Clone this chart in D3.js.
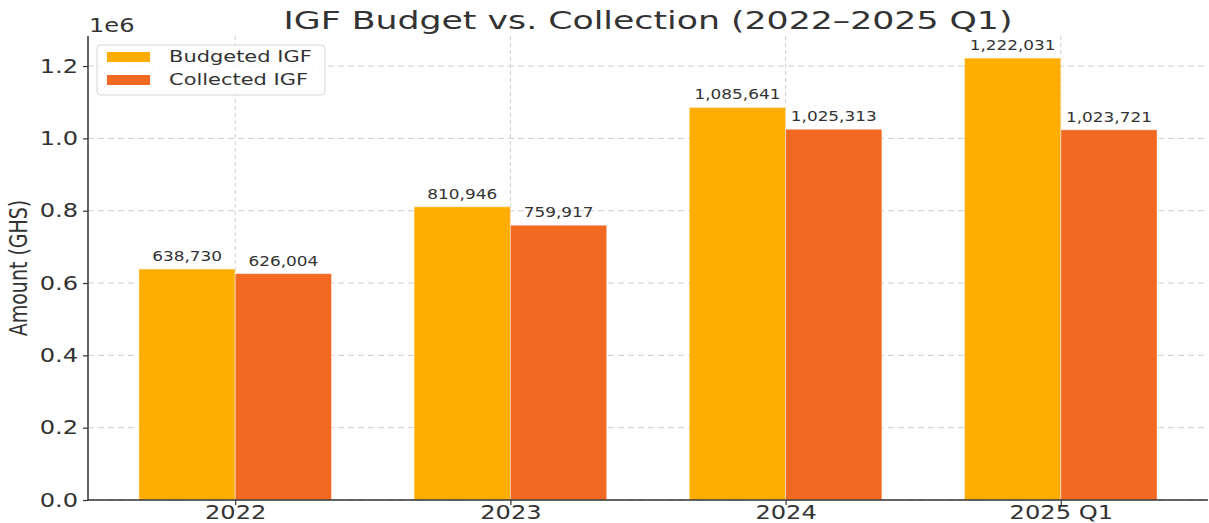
<!DOCTYPE html>
<html>
<head>
<meta charset="utf-8">
<script src="https://cdn.jsdelivr.net/npm/d3@7"></script>
<style>
  html, body { margin: 0; padding: 0; background: #fff; }
  svg { display: block; }
  text { font-family: "DejaVu Sans", sans-serif; fill: #333; }
</style>
</head>
<body>
<svg id="chart" width="1209" height="523"></svg>
<script>
// Data
const categories = ["2022", "2023", "2024", "2025 Q1"];
const budgeted = [638730, 810946, 1085641, 1222031];
const collected = [626004, 759917, 1025313, 1023721];
const seriesNames = ["Budgeted IGF", "Collected IGF"];
const seriesColors = ["#FFAD00", "#F26A22"];
const yTicks = [0, 200000, 400000, 600000, 800000, 1000000, 1200000];

const W = 1209, H = 523;
const plot = { left: 88, right: 1208, top: 36, bottom: 500 };
const barW = 0.35;
const stretch = 1.27; // glyphs are drawn wider than tall

const svg = d3.select("#chart");

const x = d3.scaleLinear()
  .domain([-barW - 0.185, categories.length - 1 + barW + 0.185])
  .range([plot.left, plot.right]);
const yMax = d3.max(budgeted.concat(collected)) * 1.05;
const y = d3.scaleLinear().domain([0, yMax]).range([plot.bottom, plot.top]);

// widen text horizontally, keeping its anchor
function widen(sel, k) {
  sel.each(function () {
    const len = this.getComputedTextLength();
    d3.select(this).attr("textLength", len * k).attr("lengthAdjust", "spacingAndGlyphs");
  });
}

// Grid
const grid = svg.append("g");
grid.selectAll("line.h").data(yTicks).join("line")
  .attr("x1", plot.left).attr("x2", plot.right)
  .attr("y1", d => y(d)).attr("y2", d => y(d))
  .attr("stroke", "#cfcfcf").attr("stroke-width", 1).attr("stroke-dasharray", "6,4");
grid.selectAll("line.v").data(categories.map((c, i) => i)).join("line")
  .attr("x1", d => x(d)).attr("x2", d => x(d))
  .attr("y1", plot.top).attr("y2", plot.bottom)
  .attr("stroke", "#cfcfcf").attr("stroke-width", 1).attr("stroke-dasharray", "4,3");

// Bars
const series = [budgeted, collected];
series.forEach((vals, s) => {
  const off = s === 0 ? -barW : 0;
  const g = svg.append("g");
  g.selectAll("rect").data(vals).join("rect")
    .attr("x", (d, i) => x(i + off))
    .attr("width", x(barW) - x(0))
    .attr("y", d => y(d))
    .attr("height", d => y(0) - y(d))
    .attr("fill", seriesColors[s])
    .attr("stroke", "#ffffff").attr("stroke-opacity", 0.45).attr("stroke-width", 1);
  g.selectAll("text").data(vals).join("text")
    .attr("x", (d, i) => x(i + off + barW / 2))
    .attr("y", d => y(d) - 8)
    .attr("text-anchor", "middle")
    .style("font-size", "13.5px")
    .text(d => d3.format(",")(d))
    .call(widen, 1.25);
});

// Axes
const xAxis = svg.append("g")
  .attr("transform", `translate(0,${plot.bottom})`)
  .call(d3.axisBottom(x).tickValues(categories.map((c, i) => i))
    .tickFormat(i => categories[i]).tickSize(5).tickSizeOuter(0));
xAxis.select(".domain").attr("stroke", "#333").attr("stroke-width", 1.5)
  .attr("d", `M${plot.left},0H${plot.right}`);
xAxis.selectAll(".tick line").attr("stroke", "#333").attr("stroke-width", 1.2);
xAxis.selectAll(".tick text").attr("y", 5.5).style("font-size", "19px").attr("fill", "#222")
  .call(widen, stretch);

const yAxis = svg.append("g")
  .attr("transform", `translate(${plot.left},0)`)
  .call(d3.axisLeft(y).tickValues(yTicks).tickFormat(d => d3.format(".1f")(d / 1e6))
    .tickSize(5).tickSizeOuter(0));
yAxis.select(".domain").attr("stroke", "#333").attr("stroke-width", 1.5)
  .attr("d", `M0,${plot.bottom}V${plot.top}`);
yAxis.selectAll(".tick line").attr("stroke", "#333").attr("stroke-width", 1.2);
yAxis.selectAll(".tick text").attr("x", -10).style("font-size", "19px").attr("fill", "#222")
  .call(widen, stretch);

// Offset label for the y scale
svg.append("text").attr("x", plot.left + 1).attr("y", 32)
  .style("font-size", "19px").attr("fill", "#222").text("1e6")
  .call(widen, stretch);

// Y axis title
svg.append("text")
  .attr("transform", `translate(27,${(plot.top + plot.bottom) / 2}) scale(${stretch},1) rotate(-90)`)
  .attr("text-anchor", "middle")
  .style("font-size", "19px")
  .text("Amount (GHS)");

// Chart title
svg.append("text")
  .attr("x", (plot.left + plot.right) / 2).attr("y", 29)
  .attr("text-anchor", "middle")
  .style("font-size", "25px")
  .text("IGF Budget vs. Collection (2022\u20132025 Q1)")
  .attr("textLength", 729).attr("lengthAdjust", "spacingAndGlyphs");

// Legend
const legend = svg.append("g");
legend.append("rect")
  .attr("x", 97).attr("y", 45).attr("width", 228).attr("height", 50).attr("rx", 4)
  .attr("fill", "#fff").attr("fill-opacity", 0.8)
  .attr("stroke", "#d6d6d6").attr("stroke-width", 1);
seriesNames.forEach((name, i) => {
  legend.append("rect")
    .attr("x", 107).attr("y", 52 + i * 23).attr("width", 43).attr("height", 10)
    .attr("fill", seriesColors[i]);
  legend.append("text")
    .attr("x", 169).attr("y", 62 + i * 23)
    .style("font-size", "16.5px")
    .text(name)
    .call(widen, stretch);
});
</script>
</body>
</html>
